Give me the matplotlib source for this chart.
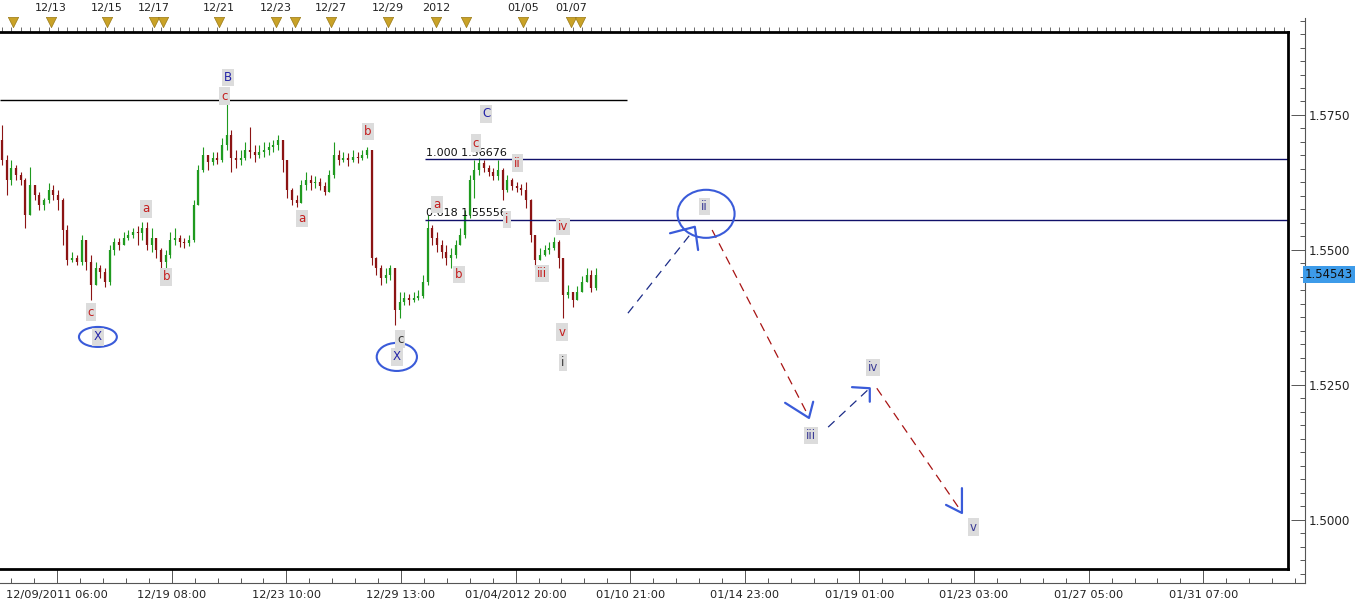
import matplotlib
matplotlib.use('Agg')
import matplotlib.pyplot as plt
from matplotlib.patches import Ellipse
from matplotlib.ticker import MultipleLocator, FormatStrFormatter
import numpy as np

# 4-hour bars, bar 0 = first visible bar
first_open = 1.5704
closes = [1.5667, 1.5630, 1.5652, 1.5639, 1.5630, 1.5565, 1.5620, 1.5602, 1.5583, 1.5593,
          1.5611, 1.5602, 1.5593, 1.5537, 1.5481, 1.5485, 1.5478, 1.5519, 1.5478, 1.5435,
          1.5467, 1.5459, 1.5441, 1.5500, 1.5515, 1.5509, 1.5522, 1.5528, 1.5533, 1.5531,
          1.5541, 1.5509, 1.5522, 1.5500, 1.5478, 1.5491, 1.5519, 1.5522, 1.5515, 1.5513,
          1.5519, 1.5583, 1.5648, 1.5676, 1.5663, 1.5670, 1.5667, 1.5694, 1.5713, 1.5670,
          1.5667, 1.5670, 1.5685, 1.5681, 1.5676, 1.5681, 1.5685, 1.5691, 1.5694, 1.5704,
          1.5667, 1.5611, 1.5593, 1.5587, 1.5620, 1.5630, 1.5624, 1.5626, 1.5619, 1.5607,
          1.5639, 1.5676, 1.5667, 1.5670, 1.5667, 1.5672, 1.5670, 1.5676, 1.5685, 1.5485,
          1.5467, 1.5448, 1.5454, 1.5467, 1.5389, 1.5404, 1.5411, 1.5407, 1.5411, 1.5415,
          1.5441, 1.5541, 1.5522, 1.5509, 1.5496, 1.5485, 1.5491, 1.5509, 1.5528, 1.5565,
          1.5630, 1.5648, 1.5661, 1.5652, 1.5644, 1.5637, 1.5648, 1.5611, 1.5630, 1.5619,
          1.5615, 1.5611, 1.5593, 1.5528, 1.5481, 1.5491, 1.5500, 1.5504, 1.5515, 1.5485,
          1.5417, 1.5422, 1.5407, 1.5422, 1.5441, 1.5454, 1.5430, 1.54543]
highs = [1.5731, 1.5676, 1.5667, 1.5657, 1.5644, 1.5633, 1.5654, 1.5620, 1.5607, 1.5596,
         1.5624, 1.5620, 1.5611, 1.5596, 1.5546, 1.5496, 1.5491, 1.5528, 1.5519, 1.5491,
         1.5478, 1.5472, 1.5467, 1.5509, 1.5522, 1.5522, 1.5533, 1.5537, 1.5541, 1.5544,
         1.5552, 1.5552, 1.5541, 1.5522, 1.5504, 1.5500, 1.5533, 1.5541, 1.5528, 1.5522,
         1.5528, 1.5593, 1.5657, 1.5691, 1.5676, 1.5681, 1.5681, 1.5707, 1.5772, 1.5722,
         1.5685, 1.5685, 1.5700, 1.5728, 1.5694, 1.5694, 1.5700, 1.5700, 1.5704, 1.5713,
         1.5704, 1.5667, 1.5615, 1.5602, 1.5630, 1.5644, 1.5639, 1.5637, 1.5633, 1.5626,
         1.5648, 1.5700, 1.5685, 1.5681, 1.5680, 1.5685, 1.5681, 1.5685, 1.5691, 1.5685,
         1.5487, 1.5472, 1.5467, 1.5472, 1.5467, 1.5422, 1.5422, 1.5419, 1.5422, 1.5426,
         1.5454, 1.5565, 1.5546, 1.5533, 1.5519, 1.5509, 1.5504, 1.5519, 1.5541, 1.5574,
         1.5639, 1.5667, 1.5670, 1.5667, 1.5657, 1.5652, 1.5667, 1.5652, 1.5639, 1.5633,
         1.5626, 1.5622, 1.5626, 1.5595, 1.5528, 1.5504, 1.5509, 1.5515, 1.5524, 1.5519,
         1.5485, 1.5435, 1.5422, 1.5433, 1.5452, 1.5467, 1.5463, 1.5467]
lows = [1.5657, 1.5602, 1.5620, 1.5630, 1.5620, 1.5541, 1.5565, 1.5593, 1.5574, 1.5574,
        1.5587, 1.5593, 1.5574, 1.5509, 1.5472, 1.5478, 1.5472, 1.5472, 1.5463, 1.5407,
        1.5435, 1.5448, 1.5431, 1.5435, 1.5491, 1.5500, 1.5509, 1.5519, 1.5522, 1.5509,
        1.5519, 1.5500, 1.5496, 1.5485, 1.5467, 1.5467, 1.5485, 1.5509, 1.5506, 1.5504,
        1.5507, 1.5515, 1.5583, 1.5644, 1.5648, 1.5657, 1.5659, 1.5663, 1.5685, 1.5644,
        1.5652, 1.5657, 1.5667, 1.5670, 1.5663, 1.5670, 1.5672, 1.5676, 1.5681, 1.5685,
        1.5644, 1.5596, 1.5583, 1.5580, 1.5593, 1.5611, 1.5611, 1.5615, 1.5611, 1.5602,
        1.5611, 1.5633, 1.5657, 1.5663, 1.5656, 1.5663, 1.5661, 1.5667, 1.5670, 1.5472,
        1.5454, 1.5435, 1.5439, 1.5444, 1.5361, 1.5374, 1.5398, 1.5398, 1.5404, 1.5407,
        1.5411, 1.5435, 1.5509, 1.5496, 1.5485, 1.5472, 1.5467, 1.5485, 1.5509, 1.5522,
        1.5559, 1.5596, 1.5639, 1.5644, 1.5637, 1.5630, 1.5630, 1.5593, 1.5607, 1.5611,
        1.5607, 1.5602, 1.5578, 1.5515, 1.5469, 1.5481, 1.5489, 1.5493, 1.5500, 1.5467,
        1.5374, 1.5411, 1.5394, 1.5407, 1.5426, 1.5441, 1.5422, 1.5426]

last_price = 1.54543
top_line = 1.5778
top_line_end = 133.6
fib_levels = [1.56676, 1.55556]
fib_ratios = ['1.000', '0.618']
fib_start = 90.4

tick_pos = [11.8, 36.3, 60.8, 85.3, 109.8, 134.3, 158.8, 183.3, 207.8, 232.3, 256.8]
tick_labels = ['12/09/2011 06:00', '12/19 08:00', '12/23 10:00', '12/29 13:00',
               '01/04/2012 20:00', '01/10 21:00', '01/14 23:00', '01/19 01:00',
               '01/23 03:00', '01/27 05:00', '01/31 07:00']
price_ticks = [1.5000, 1.5250, 1.5500, 1.5750]

event_pos = [2.35, 10.5, 22.4, 32.5, 34.4, 46.4, 58.6, 62.6, 70.3, 82.5, 92.8, 99.2,
             111.4, 121.6, 123.6]
event_label_pos = [10.5, 22.4, 32.5, 46.4, 58.6, 70.3, 82.5, 92.8, 111.4, 121.6]
event_labels = ['12/13', '12/15', '12/17', '12/21', '12/23', '12/27', '12/29', '2012',
                '01/05', '01/07']

RED = '#c41e1e'
BLUE = '#2424a8'
NAVY = '#3a3a96'
DARK = '#333333'
wave_labels = [
    (19.0, 1.5385, 'c', RED), (30.8, 1.5576, 'a', RED), (35.1, 1.5450, 'b', RED),
    (47.5, 1.5785, 'c', RED), (48.3, 1.5820, 'B', BLUE), (64.1, 1.5559, 'a', RED),
    (78.2, 1.5720, 'b', RED), (85.1, 1.5335, 'c', DARK), (93.0, 1.5584, 'a', RED),
    (97.7, 1.5454, 'b', RED), (101.3, 1.5698, 'c', RED), (103.5, 1.5752, 'C', BLUE),
    (110.1, 1.5661, 'ii', RED), (107.9, 1.5557, 'i', RED), (119.9, 1.5544, 'iv', RED),
    (115.4, 1.5456, 'iii', RED), (119.7, 1.5348, 'v', RED), (119.9, 1.5291, 'i', DARK),
    (20.5, 1.5339, 'X', BLUE), (84.4, 1.5302, 'X', BLUE),
    (150.1, 1.5580, 'ii', NAVY), (172.9, 1.5156, 'iii', NAVY),
    (186.2, 1.5283, 'iv', NAVY), (207.6, 1.4987, 'v', NAVY),
]
# (bar, price, width in bars, height in price)
circles = [(20.5, 1.5339, 8.1, 0.0037), (84.4, 1.5302, 8.6, 0.0052),
           (150.5, 1.5567, 12.2, 0.0089)]
dashed_paths = [
    ((133.8, 147.5), (1.5383, 1.5533), '#1c2c88'),
    ((151.8, 172.3), (1.5537, 1.5194), '#a81414'),
    ((176.6, 185.1), (1.5172, 1.5241), '#1c2c88'),
    ((187.0, 204.8), (1.5244, 1.5019), '#a81414'),
]
heads = [
    ((142.8, 148.1, 148.8), (1.5531, 1.5543, 1.5500)),
    ((167.4, 172.5, 173.4), (1.5217, 1.5189, 1.5219)),
    ((181.7, 185.5, 185.5), (1.5246, 1.5244, 1.5219)),
    ((201.8, 205.2, 205.2), (1.5028, 1.5013, 1.5059)),
]

W, H = 1359, 606
fig = plt.figure(figsize=(W / 100, H / 100), dpi=100)
fig.patch.set_facecolor('white')

# outer frame with the axis strips
ax_o = fig.add_axes([0, 23 / H, 1305 / W, 565 / H], zorder=0)
ax_o.set_xlim(-0.4275, 278.54)
ax_o.set_ylim(1.488333, 1.592963)
for s in ['left', 'top']:
    ax_o.spines[s].set_visible(False)
for s in ['right', 'bottom']:
    ax_o.spines[s].set_linewidth(0.8)
    ax_o.spines[s].set_color('#555555')
ax_o.set_xticks(tick_pos)
ax_o.set_xticklabels(tick_labels)
ax_o.xaxis.set_minor_locator(MultipleLocator(4.9, offset=11.8))
ax_o.yaxis.tick_right()
ax_o.set_yticks(price_ticks)
ax_o.yaxis.set_major_formatter(FormatStrFormatter('%.4f'))
ax_o.yaxis.set_minor_locator(MultipleLocator(0.0025))
ax_o.tick_params(axis='both', which='major', direction='in', length=10, width=0.7,
                 color='#555555', labelsize=8, labelcolor='#222222')
ax_o.tick_params(axis='x', which='major', pad=5, labelsize=8.2)
ax_o.tick_params(axis='y', which='major', pad=3, labelsize=8.6)
ax_o.tick_params(axis='both', which='minor', direction='in', length=3.5, width=0.7,
                 color='#555555')
ax_o.text(1.0, last_price, '1.54543', transform=ax_o.get_yaxis_transform(),
          ha='left', va='center', fontsize=8.4, color='#111111',
          bbox=dict(boxstyle='square,pad=0.15', fc='#3d9be9', ec='none'))

# price panel
ax = fig.add_axes([0, 37 / H, 1288 / W, 537 / H], zorder=1)
ax.set_xlim(-0.4275, 274.9)
ax.set_ylim(1.490926, 1.590370)
ax.spines['left'].set_visible(False)
for s in ['top', 'bottom', 'right']:
    ax.spines[s].set_linewidth(2)
ax.set_yticks([])
ax.xaxis.set_major_locator(MultipleLocator(2))
ax.tick_params(axis='x', which='both', bottom=False, top=True, labelbottom=False,
               direction='out', length=3.5, width=0.6, color='#555555')

closes_a = np.array(closes)
opens_a = np.array([first_open] + closes[:-1])
highs_a = np.array(highs)
lows_a = np.array(lows)
x = np.arange(len(closes))
colors = np.where(closes_a >= opens_a, '#1f9a1f', '#8c1414')
ax.vlines(x, np.minimum(lows_a, np.minimum(opens_a, closes_a)),
          np.maximum(highs_a, np.maximum(opens_a, closes_a)), colors=colors, lw=0.8)
ax.vlines(x, np.minimum(opens_a, closes_a), np.maximum(opens_a, closes_a),
          colors=colors, lw=1.6)

ax.hlines(top_line, -0.4275, top_line_end, color='black', lw=1)
for lev, r in zip(fib_levels, fib_ratios):
    ax.hlines(lev, fib_start, 274.9, color='#10106a', lw=1)
    ax.text(fib_start + 0.2, lev + 0.0003, f'{r} {lev:.5f}', fontsize=8,
            color='#111111', ha='left', va='bottom')

for (cx, cy, cw, ch) in circles:
    ax.add_patch(Ellipse((cx, cy), cw, ch, fill=False, ec='#3a5bd9', lw=1.5, zorder=4))

for xs, ys, c in dashed_paths:
    ax.plot(xs, ys, color=c, lw=0.9, ls=(0, (7, 5)))
for xs, ys in heads:
    ax.plot(xs, ys, color='#3a5bd9', lw=1.6, solid_capstyle='round')

for (bx, by, t, c) in wave_labels:
    ax.text(bx, by, t, ha='center', va='center', fontsize=8.5, color=c, zorder=5,
            bbox=dict(boxstyle='square,pad=0.18', fc='#dcdcdc', ec='none'))

# event markers in the top strip
ax.scatter(event_pos, [1.019] * len(event_pos), transform=ax.get_xaxis_transform(),
           marker='v', s=55, c='#c9a227', edgecolors='#9a7a18', linewidths=0.5,
           clip_on=False, zorder=6)
for ex, el in zip(event_label_pos, event_labels):
    ax.text(ex, 1.045, el, transform=ax.get_xaxis_transform(), ha='center', va='center',
            fontsize=8, color='#222222', clip_on=False)

fig.savefig('out.png', dpi=100)
